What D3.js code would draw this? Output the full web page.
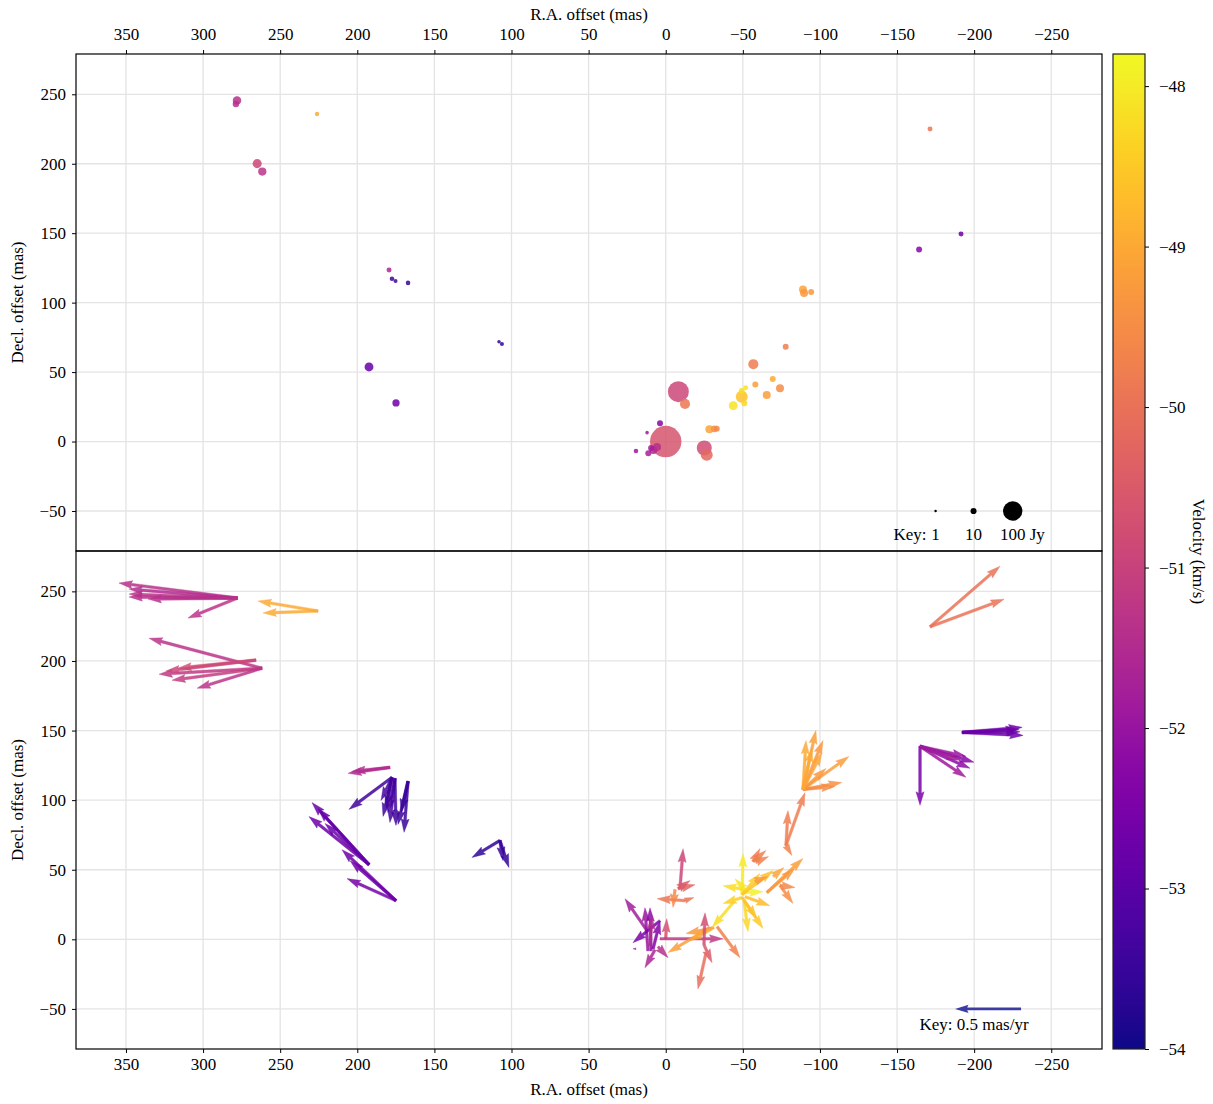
<!DOCTYPE html>
<html>
<head>
<meta charset="utf-8">
<script src="https://cdn.jsdelivr.net/npm/d3@7"></script>
<style>
  html, body { margin: 0; padding: 0; background: #fff; }
  svg text { font-family: "Liberation Serif", "Times New Roman", serif; fill: #000; }
</style>
</head>
<body>
<svg id="chart" width="1213" height="1104"></svg>
<script>
// Maser spots: [R.A. offset (mas), Decl. offset (mas), flux (Jy), velocity (km/s)]
const spots = [
  [278.0, 245.6, 19, -51.4], [278.7, 243.0, 11, -51.4], [226.1, 235.8, 5, -49.0],
  [264.9, 200.1, 22, -50.9], [261.6, 194.4, 18, -51.3], [-171.4, 225.0, 6.6, -49.9],
  [-191.5, 149.4, 6.6, -52.7], [-164.3, 138.3, 9.5, -52.3], [179.4, 123.5, 6.6, -51.6],
  [177.5, 117.2, 5.6, -53.4], [175.2, 115.6, 4.3, -53.4], [167.1, 114.2, 5.6, -53.5],
  [108.1, 71.8, 3.4, -53.6], [106.2, 70.3, 4.3, -53.6], [192.4, 53.7, 21, -52.8],
  [174.9, 27.8, 14, -52.7], [-89.0, 109.5, 17, -49.1], [-89.7, 107.0, 17, -49.3],
  [-94.3, 107.7, 9.5, -49.3], [-77.8, 68.3, 9.5, -49.8], [-56.8, 55.7, 27, -49.8],
  [-58.1, 41.0, 9.5, -49.2], [-69.4, 45.1, 9.5, -49.0], [-74.1, 38.4, 17, -49.5],
  [-65.5, 33.5, 17, -49.2], [-49.3, 32.3, 38, -48.6], [-51.9, 38.8, 6.6, -48.1],
  [-49.3, 36.4, 9.5, -48.2], [-51.0, 27.6, 9.5, -48.3], [-43.8, 25.8, 21, -48.1],
  [-8.2, 35.9, 117, -50.9], [-12.5, 27.1, 27, -49.9], [-28.3, 8.9, 17, -49.1],
  [-31.5, 9.1, 11.6, -49.4], [-33.1, 9.3, 9.5, -49.6], [-25.0, -4.6, 60, -50.8],
  [-26.6, -9.6, 38, -50.2], [0.0, 0.0, 262, -50.6], [3.7, 13.2, 9.5, -52.3],
  [12.1, 6.4, 3.4, -51.9], [19.3, -6.8, 5.6, -51.9], [11.3, -8.4, 9.5, -51.7],
  [8.0, -6.0, 17, -51.6], [5.6, -3.9, 17, -51.4], [9.5, -4.6, 9.5, -51.8]
];

// Proper motions: [R.A. offset (mas), Decl. offset (mas), mu_RA (mas/yr), mu_Dec (mas/yr), velocity (km/s)]
const motions = [
  [277.7, 245.2, 0.898, 0.114, -51.4], [277.7, 245.2, 0.822, 0.068, -51.5],
  [277.7, 245.2, 0.822, 0.030, -51.3], [277.7, 245.2, 0.822, 0.008, -51.4],
  [277.7, 245.2, 0.678, -0.008, -51.4], [277.7, 245.2, 0.375, -0.152, -51.3],
  [225.5, 235.9, 0.455, 0.076, -49.0], [225.5, 235.9, 0.417, -0.015, -49.0],
  [261.8, 194.8, 0.856, 0.227, -51.3], [261.8, 194.8, 0.780, -0.045, -51.2],
  [261.8, 194.8, 0.682, -0.091, -51.1], [261.8, 194.8, 0.492, -0.152, -51.3],
  [265.7, 200.6, 0.591, -0.061, -50.7], [265.7, 200.6, 0.682, -0.083, -50.9],
  [-171.4, 224.5, -0.530, 0.460, -50.0], [-171.4, 224.5, -0.561, 0.210, -50.0],
  [-192.2, 148.7, -0.455, 0.038, -52.8], [-192.2, 148.7, -0.462, -0.023, -52.7],
  [-192.2, 148.7, -0.432, 0.023, -52.6], [-192.2, 148.7, -0.439, 0.004, -52.8],
  [-164.9, 138.7, 0.000, -0.447, -52.5], [-164.9, 138.7, -0.409, -0.121, -52.3],
  [-164.9, 138.7, -0.348, -0.076, -52.0], [-164.9, 138.7, -0.348, -0.235, -51.9],
  [-164.9, 138.7, -0.379, -0.167, -52.2], [-164.9, 138.7, -0.303, -0.106, -51.8],
  [178.8, 123.5, 0.318, -0.045, -51.6], [178.8, 123.5, 0.288, -0.030, -51.5],
  [177.5, 116.3, 0.326, -0.242, -53.4], [177.5, 116.3, 0.068, -0.295, -53.4],
  [177.5, 116.3, 0.083, -0.174, -53.3], [177.5, 116.3, 0.045, -0.235, -53.4],
  [175.6, 115.6, 0.038, -0.333, -53.3], [175.6, 115.6, -0.008, -0.356, -53.4],
  [175.6, 115.6, 0.053, -0.258, -53.3], [167.1, 113.5, 0.030, -0.386, -53.5],
  [167.1, 113.5, 0.076, -0.326, -53.4], [167.1, 113.5, 0.053, -0.235, -53.5],
  [107.5, 71.0, 0.212, -0.129, -53.6], [107.5, 71.0, -0.068, -0.205, -53.6],
  [107.5, 71.0, -0.023, -0.152, -53.5],
  [192.4, 53.7, 0.432, 0.470, -52.8], [192.4, 53.7, 0.455, 0.364, -52.7],
  [192.4, 53.7, 0.333, 0.311, -52.8], [192.4, 53.7, 0.386, 0.424, -52.9],
  [174.9, 27.8, 0.409, 0.386, -52.7], [174.9, 27.8, 0.371, 0.167, -52.6],
  [174.9, 27.8, 0.348, 0.303, -52.7],
  [-89.0, 107.7, -0.023, 0.371, -49.0], [-89.0, 107.7, -0.098, 0.447, -49.2],
  [-89.0, 107.7, -0.152, 0.371, -49.3], [-89.0, 107.7, -0.348, 0.250, -49.2],
  [-89.0, 107.7, -0.295, 0.053, -49.4], [-89.0, 107.7, -0.242, 0.023, -49.5],
  [-89.0, 107.7, -0.174, 0.159, -49.3], [-89.0, 107.7, -0.144, 0.280, -49.1],
  [-89.0, 107.7, -0.068, 0.311, -49.0],
  [-78.0, 67.4, -0.144, 0.402, -49.8], [-78.0, 67.4, -0.015, 0.265, -49.8],
  [-78.0, 67.4, -0.045, -0.076, -49.7],
  [-9.3, 37.1, -0.023, 0.295, -50.9], [-8.0, 36.4, -0.129, 0.030, -50.3],
  [-8.0, 36.4, -0.091, 0.061, -50.5], [-12.5, 27.8, 0.212, 0.015, -49.9],
  [-6.0, 35.8, 0.015, -0.136, -49.6], [-12.5, 27.8, -0.068, 0.023, -50.0],
  [12.1, 6.2, 0.167, 0.242, -51.8], [11.5, -8.3, 0.023, 0.326, -52.0],
  [9.5, -8.3, 0.008, 0.326, -52.2], [8.2, -6.9, -0.053, 0.212, -52.4],
  [3.7, 13.4, 0.205, -0.167, -52.5], [7.0, -7.6, 0.076, -0.136, -51.6],
  [5.0, -5.3, -0.076, -0.083, -51.4], [19.3, -6.8, 0.023, 0.000, -51.9],
  [0.0, 0.4, -0.008, 0.152, -50.7], [3.7, 0.4, -0.477, 0.000, -51.2],
  [10.2, -4.7, -0.015, 0.227, -51.5],
  [-28.7, 8.4, 0.318, -0.189, -49.2], [-31.3, 8.4, 0.212, -0.045, -49.3],
  [-33.3, 9.1, -0.174, -0.235, -49.7], [-29.9, 7.6, 0.167, -0.091, -49.0],
  [-24.8, -3.9, -0.008, 0.242, -50.8], [-24.8, -3.9, -0.061, -0.136, -50.5],
  [-26.1, -9.8, 0.061, -0.273, -50.1],
  [-44.3, 27.1, 0.167, -0.197, -48.2], [-49.5, 32.2, -0.008, 0.311, -48.0],
  [-51.4, 35.7, 0.167, 0.030, -48.2], [-49.5, 30.0, 0.144, -0.045, -48.4],
  [-50.8, 33.5, -0.144, 0.008, -47.9], [-49.5, 32.2, -0.235, 0.182, -48.6],
  [-49.5, 32.2, -0.136, 0.159, -48.5], [-50.8, 27.8, -0.144, -0.212, -48.5],
  [-50.8, 27.8, -0.030, -0.235, -48.3], [-49.5, 30.0, -0.114, -0.159, -48.6],
  [-51.4, 30.6, -0.189, -0.068, -48.7], [-51.4, 35.7, 0.076, 0.083, -48.1],
  [-65.6, 33.6, -0.273, 0.258, -49.2], [-65.6, 33.6, -0.212, 0.182, -49.3],
  [-74.1, 38.7, -0.098, -0.136, -49.5], [-74.1, 38.7, -0.114, -0.015, -49.6],
  [-69.6, 45.1, -0.083, 0.068, -49.1], [-56.6, 55.9, -0.098, 0.083, -49.8],
  [-56.6, 55.9, -0.053, 0.098, -49.8], [-57.9, 41.5, -0.098, 0.038, -49.3],
  [-58.3, 55.2, -0.098, 0.045, -49.7]
];

// Reference keys
const fluxKey = [1, 10, 100];            // Jy
const fluxKeyRA = [-175.0, -199.6, -225.0];
const fluxKeyDec = -50;
const motionKey = [-230.4, -50, 0.5, 0];  // ra, dec, mu_RA, mu_Dec

// Axis ticks
const raTicks = [350, 300, 250, 200, 150, 100, 50, 0, -50, -100, -150, -200, -250];
const decTicks = [-50, 0, 50, 100, 150, 200, 250];
const velTicks = [-54, -53, -52, -51, -50, -49, -48];
const raDomain = [382.4, -282.9];
const decDomain = [-78.8, 279.0];
const velDomain = [-54, -47.8];

const svg = d3.select("#chart");
const L = 76, R = 1102, T = 54, MID = 551, B = 1049;
const FS = 17;
const fmt = d => (d < 0 ? "\u2212" + Math.abs(d) : String(d));

const x = d3.scaleLinear().domain(raDomain).range([L, R]);
const yTop = d3.scaleLinear().domain(decDomain).range([MID, T]);
const yBot = d3.scaleLinear().domain(decDomain).range([B, MID]);
const color = d3.scaleSequential(d3.interpolatePlasma).domain(velDomain);
const radius = d3.scaleSqrt().domain([0, 100]).range([0, 9.7]);
const arrowLen = d3.scaleLinear().domain([0, 1]).range([0, 132]); // px per mas/yr

const defs = svg.append("defs");
defs.append("clipPath").attr("id", "clipTop").append("rect")
  .attr("x", L).attr("y", T).attr("width", R - L).attr("height", MID - T);
defs.append("clipPath").attr("id", "clipBot").append("rect")
  .attr("x", L).attr("y", MID).attr("width", R - L).attr("height", B - MID);

// Grid lines
function grid(yScale, y0, y1) {
  const g = svg.append("g").attr("stroke", "#e4e4e4").attr("stroke-width", 1.3);
  g.selectAll("line.v").data(raTicks).join("line")
    .attr("x1", d => x(d)).attr("x2", d => x(d)).attr("y1", y0).attr("y2", y1);
  g.selectAll("line.h").data(decTicks).join("line")
    .attr("x1", L).attr("x2", R).attr("y1", d => yScale(d)).attr("y2", d => yScale(d));
}
grid(yTop, T, MID);
grid(yBot, MID, B);

// Top panel: spots sized by flux, coloured by velocity
const gTop = svg.append("g").attr("clip-path", "url(#clipTop)");
const sorted = spots.slice().sort((a, b) => b[2] - a[2]);
gTop.selectAll("circle").data(sorted).join("circle")
  .attr("cx", d => x(d[0])).attr("cy", d => yTop(d[1]))
  .attr("r", d => radius(d[2]))
  .attr("fill", d => color(d[3])).attr("fill-opacity", 0.85);

// Flux key
gTop.selectAll("circle.key").data(fluxKey).join("circle")
  .attr("cx", (d, i) => x(fluxKeyRA[i])).attr("cy", yTop(fluxKeyDec))
  .attr("r", d => Math.max(radius(d), 1.2)).attr("fill", "#000");
const keyY = yTop(fluxKeyDec) + 29;
svg.append("text").attr("x", x(fluxKeyRA[0]) - 9).attr("y", keyY)
  .attr("text-anchor", "end").attr("font-size", FS).text("Key:");
fluxKey.forEach((d, i) => {
  svg.append("text").attr("x", x(fluxKeyRA[i])).attr("y", keyY)
    .attr("text-anchor", "middle").attr("font-size", FS).text(d);
});
svg.append("text").attr("x", x(fluxKeyRA[2]) + 17).attr("y", keyY)
  .attr("font-size", FS).text("Jy");

// Arrow polygon (quiver style)
function arrowPath(x0, y0, dxp, dyp) {
  const len = Math.hypot(dxp, dyp);
  if (len === 0) return "";
  const w = 2.7;
  let hw = 3 * w, hl = 5 * w, hal = 4.5 * w, sw = w;
  if (len < hl) { const k = len / hl; hw *= k; hl *= k; hal *= k; sw *= k; }
  const ux = dxp / len, uy = dyp / len, px = -uy, py = ux;
  const pts = [[0, -sw / 2], [len - hal, -sw / 2], [len - hl, -hw / 2], [len, 0],
               [len - hl, hw / 2], [len - hal, sw / 2], [0, sw / 2]];
  return "M" + pts.map(([a, b]) => [x0 + a * ux + b * px, y0 + a * uy + b * py].join(",")).join("L") + "Z";
}

// Bottom panel: proper motion vectors
const gBot = svg.append("g").attr("clip-path", "url(#clipBot)");
gBot.selectAll("path.mv").data(motions).join("path")
  .attr("d", d => arrowPath(x(d[0]), yBot(d[1]), -arrowLen(d[2]), -arrowLen(d[3])))
  .attr("fill", d => color(d[4])).attr("fill-opacity", 0.85)
  .attr("stroke", d => color(d[4])).attr("stroke-width", 0.4).attr("stroke-opacity", 0.85);

// Motion key
gBot.append("path")
  .attr("d", arrowPath(x(motionKey[0]), yBot(motionKey[1]), -arrowLen(motionKey[2]), -arrowLen(motionKey[3])))
  .attr("fill", "#28289a").attr("fill-opacity", 0.9);
svg.append("text").attr("x", x(motionKey[0]) - arrowLen(motionKey[2]) / 2 - 14).attr("y", yBot(motionKey[1]) + 21)
  .attr("text-anchor", "middle").attr("font-size", FS).text("Key: 0.5 mas/yr");

// Axes
function styleAxis(g) {
  g.select(".domain").remove();
  g.selectAll(".tick line").attr("stroke", "#000").attr("stroke-width", 1);
  g.selectAll(".tick text").attr("font-size", FS).attr("font-family", "Liberation Serif, serif");
}
svg.append("g").attr("transform", `translate(0,${T})`)
  .call(d3.axisTop(x).tickValues(raTicks).tickFormat(fmt).tickSize(4).tickPadding(10))
  .call(styleAxis);
svg.append("g").attr("transform", `translate(0,${B})`)
  .call(d3.axisBottom(x).tickValues(raTicks).tickFormat(fmt).tickSize(4).tickPadding(5))
  .call(styleAxis);
svg.append("g").attr("transform", `translate(${L},0)`)
  .call(d3.axisLeft(yTop).tickValues(decTicks).tickFormat(fmt).tickSize(4).tickPadding(6))
  .call(styleAxis);
svg.append("g").attr("transform", `translate(${L},0)`)
  .call(d3.axisLeft(yBot).tickValues(decTicks).tickFormat(fmt).tickSize(4).tickPadding(6))
  .call(styleAxis);

// Frames
[[T, MID], [MID, B]].forEach(([a, b]) => {
  svg.append("rect").attr("x", L).attr("y", a).attr("width", R - L).attr("height", b - a)
    .attr("fill", "none").attr("stroke", "#000").attr("stroke-width", 1.2);
});

// Axis titles
svg.append("text").attr("x", (L + R) / 2).attr("y", 20).attr("text-anchor", "middle")
  .attr("font-size", FS).text("R.A. offset (mas)");
svg.append("text").attr("x", (L + R) / 2).attr("y", 1095).attr("text-anchor", "middle")
  .attr("font-size", FS).text("R.A. offset (mas)");
[(T + MID) / 2, (MID + B) / 2].forEach(cy => {
  svg.append("text").attr("transform", `translate(23,${cy}) rotate(-90)`)
    .attr("text-anchor", "middle").attr("font-size", FS).text("Decl. offset (mas)");
});

// Colour bar
const CBX = 1113, CBW = 32;
const cy = d3.scaleLinear().domain(velDomain).range([B, T]);
const grad = defs.append("linearGradient").attr("id", "velGrad")
  .attr("x1", 0).attr("y1", 1).attr("x2", 0).attr("y2", 0);
d3.range(0, 1.0001, 0.02).forEach(t => {
  grad.append("stop").attr("offset", t).attr("stop-color", d3.interpolatePlasma(t));
});
svg.append("rect").attr("x", CBX).attr("y", T).attr("width", CBW).attr("height", B - T)
  .attr("fill", "url(#velGrad)").attr("stroke", "#222").attr("stroke-width", 1.2);
svg.append("g").attr("transform", `translate(${CBX + CBW},0)`)
  .call(d3.axisRight(cy).tickValues(velTicks).tickFormat(fmt).tickSize(4).tickPadding(10))
  .call(styleAxis);
svg.append("text").attr("transform", `translate(1193,${(T + B) / 2}) rotate(90)`)
  .attr("text-anchor", "middle").attr("font-size", FS).text("Velocity (km/s)");
</script>
</body>
</html>
